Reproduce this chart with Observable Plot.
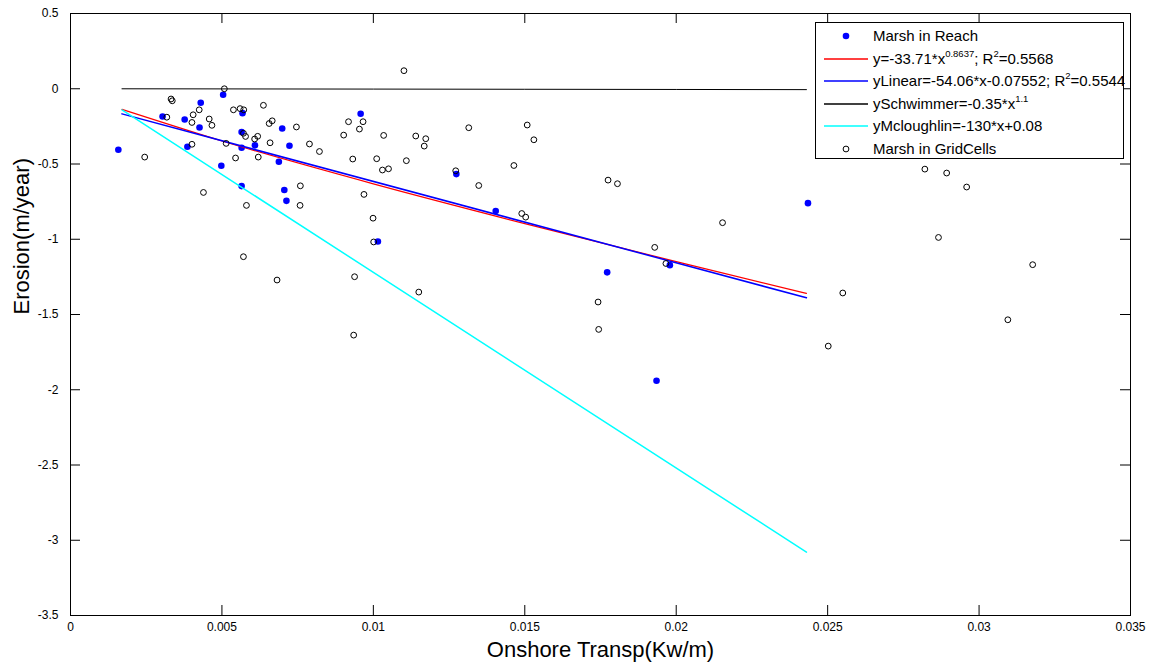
<!DOCTYPE html>
<html><head><meta charset="utf-8">
<script src="https://cdn.jsdelivr.net/npm/d3@7"></script>
<script src="https://cdn.jsdelivr.net/npm/@observablehq/plot@0.6"></script>
<style>
body{margin:0;background:#fff;}
#wrap{position:relative;width:1158px;height:668px;overflow:hidden;}
#legend{position:absolute;left:815px;top:22px;width:307px;height:135px;border:1px solid #000;background:#fff;font-family:"Liberation Sans",Arial,sans-serif;font-size:15px;color:#000;}
.lrow{position:absolute;left:0;width:100%;height:0;}
.ltext{position:absolute;left:57px;top:-10px;white-space:nowrap;line-height:20px;}
.ltext sup{font-size:9.5px;vertical-align:7px;line-height:0;}
.lsym{position:absolute;left:8px;top:-5px;}
</style></head>
<body><div id="wrap"><div id="chart"></div><div id="legend"></div></div>
<script>
// ---- data ----
const reachX = [0.00158,0.00304,0.00377,0.00386,0.00426,0.00430,0.00498,0.00504,0.00568,0.00565,0.00565,0.00565,0.00609,0.00688,0.00699,0.00706,0.00713,0.00723,0.00958,0.01015,0.01274,0.01404,0.01772,0.01935,0.01979,0.02435];
const reachY = [-0.405,-0.184,-0.204,-0.385,-0.257,-0.093,-0.512,-0.040,-0.162,-0.288,-0.392,-0.647,-0.376,-0.485,-0.264,-0.673,-0.745,-0.379,-0.166,-1.015,-0.567,-0.812,-1.220,-1.940,-1.172,-0.760];

const gridX = [0.00508,0.00332,0.00336,0.00318,0.00405,0.00425,0.00401,0.00458,0.00467,0.00538,0.00560,0.00572,0.00637,0.00656,0.00666,0.00746,0.00571,0.00578,0.00608,0.00618,0.00659,0.00514,0.00401,0.00545,0.00620,0.00245,0.00439,0.00759,0.00581,0.00758,0.00969,0.00999,0.01001,0.00571,0.00682,0.00938,0.01101,0.00789,0.00822,0.00918,0.00966,0.00954,0.00902,0.01034,0.00932,0.01011,0.01030,0.01050,0.01109,0.01140,0.01173,0.01168,0.01272,0.01315,0.01348,0.01464,0.01508,0.01530,0.01150,0.00935,0.01490,0.01503,0.01742,0.01744,0.01775,0.01806,0.02153,0.01929,0.01966,0.02550,0.02821,0.02893,0.02959,0.02866,0.03177,0.03095,0.02502];
const gridY = [0.000,-0.068,-0.080,-0.189,-0.173,-0.140,-0.224,-0.201,-0.243,-0.140,-0.132,-0.140,-0.110,-0.231,-0.213,-0.254,-0.296,-0.317,-0.334,-0.316,-0.359,-0.363,-0.369,-0.460,-0.454,-0.454,-0.689,-0.645,-0.775,-0.775,-0.702,-0.860,-1.018,-1.116,-1.271,-1.249,0.120,-0.367,-0.417,-0.219,-0.219,-0.268,-0.308,-0.310,-0.467,-0.465,-0.540,-0.532,-0.478,-0.314,-0.332,-0.381,-0.545,-0.259,-0.643,-0.510,-0.241,-0.339,-1.351,-1.637,-0.829,-0.853,-1.417,-1.599,-0.607,-0.631,-0.890,-1.054,-1.161,-1.357,-0.534,-0.560,-0.653,-0.988,-1.169,-1.535,-1.710];

// fitted curves
const fitX   = [0.0017, 0.005, 0.01, 0.015, 0.02, 0.0243];
const powerY = [-0.137, -0.347, -0.632, -0.896, -1.149, -1.360];
const schwY  = [-0.0003, -0.0010, -0.0022, -0.0035, -0.0047, -0.0059];
const linX   = [0.0017, 0.0243];
const linearY = [-0.167, -1.389];
const mclY    = [-0.141, -3.079];

const xTicks = [0,0.005,0.01,0.015,0.02,0.025,0.03,0.035];
const xTickLabels = ["0","0.005","0.01","0.015","0.02","0.025","0.03","0.035"];
const yTicks = [0.5,0,-0.5,-1,-1.5,-2,-2.5,-3,-3.5];
const yTickLabels = ["0.5","0","-0.5","-1","-1.5","-2","-2.5","-3","-3.5"];

const xLabel = "Onshore Transp(Kw/m)";
const yLabel = "Erosion(m/year)";

const legendItems = [
  {kind:"dot", color:"#0000ff", html:"Marsh in Reach"},
  {kind:"line", color:"#ff0000", html:"y=-33.71*x<sup>0.8637</sup>; R<sup>2</sup>=0.5568"},
  {kind:"line", color:"#0000ff", html:"yLinear=-54.06*x-0.07552; R<sup>2</sup>=0.5544"},
  {kind:"line", color:"#000000", html:"ySchwimmer=-0.35*x<sup>1.1</sup>"},
  {kind:"line", color:"#00ffff", html:"yMcloughlin=-130*x+0.08"},
  {kind:"circle", color:"#000000", html:"Marsh in GridCells"}
];

// ---- chart ----
const W = 1158, H = 668, mL = 70, mR = 28, mT = 13, mB = 53;
const fw = W - mL - mR, fh = H - mT - mB, tl = 10;

const reach = reachX.map((x,i)=>({x, y:reachY[i]}));
const grid = gridX.map((x,i)=>({x, y:gridY[i]}));
const powerLine = fitX.map((x,i)=>({x, y:powerY[i]}));
const schwLine = fitX.map((x,i)=>({x, y:schwY[i]}));
const linLine = linX.map((x,i)=>({x, y:linearY[i]}));
const mclLine = linX.map((x,i)=>({x, y:mclY[i]}));

const chart = Plot.plot({
  width: W, height: H,
  marginLeft: mL, marginRight: mR, marginTop: mT, marginBottom: mB,
  style: {fontFamily: "'Liberation Sans', Arial, sans-serif", fontSize: "12px", background: "#fff", color: "#000"},
  x: {domain: [0, 0.035]},
  y: {domain: [-3.5, 0.5]},
  marks: [
    Plot.dot(reach, {x:"x", y:"y", r:3.3, fill:"#0000ff", stroke:"none"}),
    Plot.line(powerLine, {x:"x", y:"y", stroke:"#ff0000", strokeWidth:1.2, curve:"monotone-x"}),
    Plot.line(linLine, {x:"x", y:"y", stroke:"#0000ff", strokeWidth:1.5}),
    Plot.line(schwLine, {x:"x", y:"y", stroke:"#000000", strokeWidth:1}),
    Plot.line(mclLine, {x:"x", y:"y", stroke:"#00ffff", strokeWidth:1.5}),
    Plot.dot(grid, {x:"x", y:"y", r:2.9, fill:"none", stroke:"#000", strokeWidth:1}),
    Plot.frame({stroke:"#000", strokeWidth:1}),
    Plot.tickX(xTicks, {x:d=>d, insetTop: fh - tl, stroke:"#000"}),
    Plot.tickX(xTicks, {x:d=>d, insetBottom: fh - tl, stroke:"#000"}),
    Plot.tickY(yTicks, {y:d=>d, insetRight: fw - tl, stroke:"#000"}),
    Plot.tickY(yTicks, {y:d=>d, insetLeft: fw - tl, stroke:"#000"}),
    Plot.axisX({ticks: xTicks, tickSize: 0, tickPadding: 7, tickFormat: d => xTickLabels[xTicks.indexOf(d)], label: null, fontSize: 12}),
    Plot.axisY({ticks: yTicks, tickSize: 0, tickPadding: 12, tickFormat: d => yTickLabels[yTicks.indexOf(d)], label: null, fontSize: 12}),
    Plot.text([xLabel], {text: d=>d, frameAnchor: "bottom", dy: 41, fontSize: 22, fill:"#000"}),
    Plot.text([yLabel], {text: d=>d, frameAnchor: "left", dx: -49, rotate: -90, fontSize: 22, fill:"#000"})
  ]
});
document.getElementById("chart").appendChild(chart);

// ---- legend ----
const leg = document.getElementById("legend");
const NS = "http://www.w3.org/2000/svg";
legendItems.forEach((it, i) => {
  const row = document.createElement("div");
  row.className = "lrow";
  row.style.top = (13 + i * 22.5) + "px";
  const s = document.createElementNS(NS, "svg");
  s.setAttribute("class", "lsym");
  s.setAttribute("width", "44");
  s.setAttribute("height", "10");
  let el;
  if (it.kind === "line") {
    el = document.createElementNS(NS, "line");
    el.setAttribute("x1", 0); el.setAttribute("x2", 44);
    el.setAttribute("y1", 5); el.setAttribute("y2", 5);
    el.setAttribute("stroke", it.color);
    el.setAttribute("stroke-width", 1.4);
  } else {
    el = document.createElementNS(NS, "circle");
    el.setAttribute("cx", 22); el.setAttribute("cy", 5);
    if (it.kind === "dot") { el.setAttribute("r", 3.3); el.setAttribute("fill", it.color); }
    else { el.setAttribute("r", 2.9); el.setAttribute("fill", "none"); el.setAttribute("stroke", it.color); }
  }
  s.appendChild(el);
  row.appendChild(s);
  const t = document.createElement("div");
  t.className = "ltext";
  t.innerHTML = it.html;
  row.appendChild(t);
  leg.appendChild(row);
});
</script>
</body></html>
